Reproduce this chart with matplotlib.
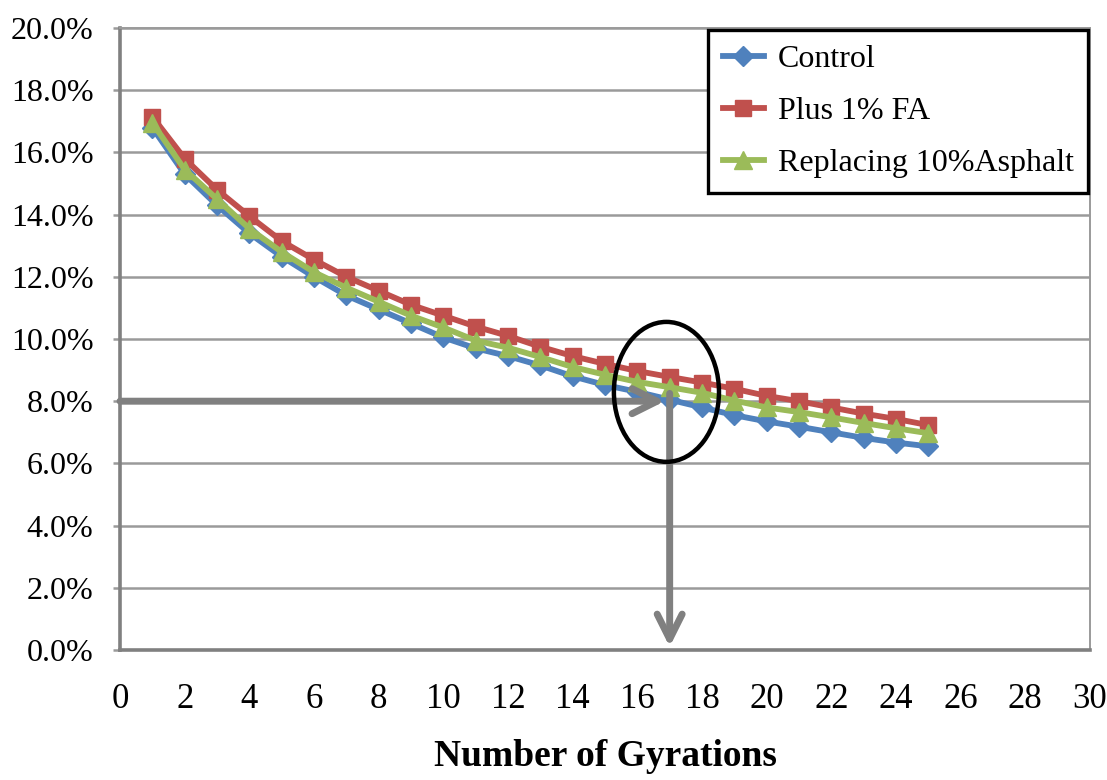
import matplotlib
matplotlib.use("Agg")
import matplotlib.pyplot as plt
from matplotlib.patches import Ellipse
from matplotlib.ticker import FuncFormatter, MultipleLocator

# Air voids (%) against number of gyrations
gyrations = list(range(1, 26))
control = [16.8, 15.3, 14.3, 13.4, 12.65, 12.0, 11.4, 10.95, 10.5, 10.05,
           9.7, 9.45, 9.15, 8.8, 8.52, 8.3, 8.05, 7.8, 7.55, 7.35,
           7.18, 7.0, 6.82, 6.67, 6.55]
plus_fa = [17.15, 15.8, 14.8, 13.95, 13.15, 12.55, 12.0, 11.55, 11.1, 10.75,
           10.4, 10.1, 9.75, 9.45, 9.2, 8.97, 8.78, 8.6, 8.4, 8.17,
           8.0, 7.8, 7.6, 7.43, 7.23]
replacing = [16.95, 15.45, 14.5, 13.55, 12.8, 12.15, 11.65, 11.2, 10.75, 10.37,
             9.95, 9.72, 9.42, 9.1, 8.85, 8.62, 8.45, 8.27, 8.02, 7.8,
             7.65, 7.48, 7.3, 7.13, 6.97]
series_labels = ["Control", "Plus 1% FA", "Replacing 10%Asphalt"]

# Target air voids and the gyration count where it is reached
target_voids = 8.0
target_gyration = 17

plt.rcParams["font.family"] = ["Liberation Serif", "DejaVu Serif"]

fig = plt.figure(figsize=(11.07, 7.8), dpi=100)
ax = fig.add_axes([120 / 1107, 1 - 650 / 780, (1090 - 120) / 1107, (650 - 28) / 780])

ax.plot(gyrations, control, color="#4F81BD", lw=4.2, marker="D", ms=10,
        label=series_labels[0], zorder=3)
ax.plot(gyrations, plus_fa, color="#C0504D", lw=4.2, marker="s", ms=12,
        label=series_labels[1], zorder=4)
ax.plot(gyrations, replacing, color="#9BBB59", lw=4.2, marker="^", ms=13,
        label=series_labels[2], zorder=5)

ax.set_xlim(0, 30)
ax.set_ylim(0, 20)
ax.xaxis.set_major_locator(MultipleLocator(2))
ax.yaxis.set_major_locator(MultipleLocator(2))
ax.yaxis.set_major_formatter(FuncFormatter(lambda v, p: f"{v:.1f}%"))

ax.grid(axis="y", color="#9a9a9a", lw=1.8, zorder=0)
ax.set_axisbelow(True)

for side in ("left", "bottom"):
    ax.spines[side].set_color("#808080")
    ax.spines[side].set_linewidth(2.6)
for side in ("top", "right"):
    ax.spines[side].set_color("#9a9a9a")
    ax.spines[side].set_linewidth(1.4)

ax.tick_params(axis="x", length=0, pad=24, labelsize=25)
ax.tick_params(axis="y", length=5, width=1.8, color="#9a9a9a", pad=14, labelsize=23)

ax.set_xlabel("Number of Gyrations", fontsize=27, fontweight="bold", labelpad=16)

# Arrows reading off the target air voids
arrow_kw = dict(arrowstyle="->", lw=5, color="#808080", mutation_scale=45,
                shrinkA=0, shrinkB=0)
ax.annotate("", xy=(target_gyration - 0.15, target_voids), xytext=(0, target_voids),
            arrowprops=arrow_kw, zorder=6, annotation_clip=False)
ax.annotate("", xy=(target_gyration, 0.1), xytext=(target_gyration, 8.25),
            arrowprops=arrow_kw, zorder=6, annotation_clip=False)

ax.add_patch(Ellipse((16.9, 8.3), 3.25, 4.5, fill=False, edgecolor="black",
                     lw=3.2, zorder=7))

leg = ax.legend(loc="upper right", bbox_to_anchor=(1088 / 1107, 1 - 30 / 780),
                bbox_transform=fig.transFigure, fontsize=23, frameon=True,
                fancybox=False, borderaxespad=0, handlelength=1.3,
                handletextpad=0.42, labelspacing=0.72, borderpad=0.45)
leg.get_frame().set_edgecolor("black")
leg.get_frame().set_linewidth(2.4)
leg.get_frame().set_alpha(1)

fig.savefig("out.png", dpi=100)
